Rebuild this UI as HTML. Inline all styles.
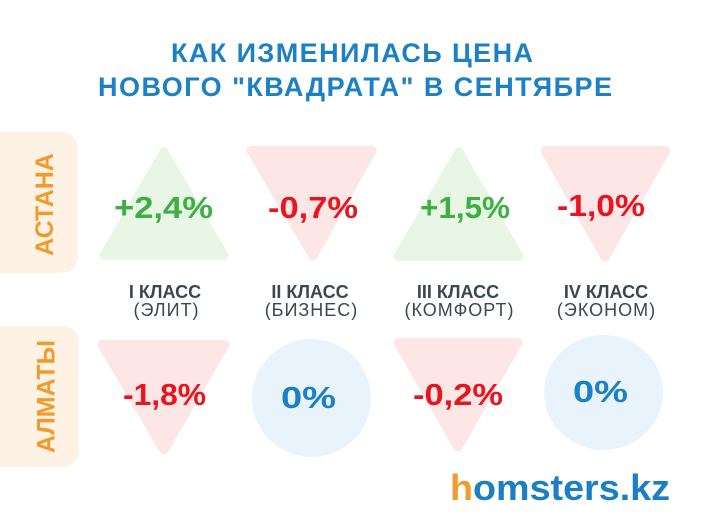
<!DOCTYPE html>
<html>
<head>
<meta charset="utf-8">
<style>
html,body{margin:0;padding:0;background:#fff;}
body{width:705px;height:529px;overflow:hidden;}
svg{display:block;}
text{font-family:"Liberation Sans","DejaVu Sans",sans-serif;}
</style>
</head>
<body>
<svg width="705" height="529" viewBox="0 0 705 529" xmlns="http://www.w3.org/2000/svg">
  <rect width="705" height="529" fill="#ffffff"/>

  <!-- Title -->
  <g fill="#1b80c4" font-weight="bold" font-size="27">
    <text x="171" y="62" textLength="362" lengthAdjust="spacing">КАК ИЗМЕНИЛАСЬ ЦЕНА</text>
    <text x="98" y="96" textLength="514" lengthAdjust="spacing">НОВОГО "КВАДРАТА" В СЕНТЯБРЕ</text>
  </g>

  <!-- Side boxes -->
  <rect x="-20" y="132" width="98" height="141" rx="16" fill="#fef2e5"/>
  <rect x="-20" y="326" width="99" height="141" rx="16" fill="#fef2e5"/>
  <g fill="#f39a2c" font-weight="bold" font-size="25" text-anchor="middle">
    <text transform="translate(53,204.5) rotate(-90)">АСТАНА</text>
    <text transform="translate(54.5,396.5) rotate(-90)">АЛМАТЫ</text>
  </g>

  <!-- Astana shapes -->
  <g stroke-linejoin="round" stroke-width="9">
    <polygon points="164,152 104,255.5 224,255.5" fill="#e9f6e6" stroke="#e9f6e6"/>
    <polygon points="251,150.5 372,150.5 313,256" fill="#fde6e6" stroke="#fde6e6"/>
    <polygon points="459,152 398,256.5 519,256.5" fill="#e9f6e6" stroke="#e9f6e6"/>
    <polygon points="545,150.5 666,150.5 605,257" fill="#fde6e6" stroke="#fde6e6"/>
  </g>

  <!-- Almaty shapes -->
  <g stroke-linejoin="round" stroke-width="9">
    <polygon points="102,344.5 225,344.5 164,450" fill="#fde6e6" stroke="#fde6e6"/>
    <polygon points="398,342.5 518,342.5 458,447" fill="#fde6e6" stroke="#fde6e6"/>
  </g>
  <ellipse cx="311.5" cy="398" rx="59.5" ry="59" fill="#e8f3fb"/>
  <ellipse cx="603.5" cy="392.5" rx="59.5" ry="57.5" fill="#e8f3fb"/>

  <!-- Values -->
  <g font-weight="bold" font-size="31">
    <text x="114" y="218" fill="#3cb043" textLength="99" lengthAdjust="spacingAndGlyphs">+2,4%</text>
    <text x="268" y="218" fill="#e8141e" textLength="90" lengthAdjust="spacingAndGlyphs">-0,7%</text>
    <text x="420" y="218" fill="#3cb043" textLength="90" lengthAdjust="spacingAndGlyphs">+1,5%</text>
    <text x="557" y="216" fill="#e8141e" textLength="88" lengthAdjust="spacingAndGlyphs">-1,0%</text>
    <text x="123" y="405" fill="#e8141e" textLength="83" lengthAdjust="spacingAndGlyphs">-1,8%</text>
    <text x="281" y="408" fill="#1b80c4" textLength="55" lengthAdjust="spacingAndGlyphs">0%</text>
    <text x="413" y="405" fill="#e8141e" textLength="90" lengthAdjust="spacingAndGlyphs">-0,2%</text>
    <text x="573" y="402" fill="#1b80c4" textLength="55" lengthAdjust="spacingAndGlyphs">0%</text>
  </g>

  <!-- Class labels -->
  <g fill="#3a4750" font-size="18" text-anchor="middle">
    <text x="165" y="298" font-weight="bold">I КЛАСС</text>
    <text x="310" y="298" font-weight="bold">II КЛАСС</text>
    <text x="458" y="298" font-weight="bold">III КЛАСС</text>
    <text x="606" y="298" font-weight="bold">IV КЛАСС</text>
    <text x="166.5" y="316" letter-spacing="1">(ЭЛИТ)</text>
    <text x="311.5" y="316" letter-spacing="1">(БИЗНЕС)</text>
    <text x="459.5" y="316" letter-spacing="1">(КОМФОРТ)</text>
    <text x="606.5" y="316" letter-spacing="1">(ЭКОНОМ)</text>
  </g>

  <!-- Logo -->
  <text x="450" y="500" font-weight="bold" font-size="36" textLength="220" lengthAdjust="spacingAndGlyphs"><tspan fill="#f39a2c">h</tspan><tspan fill="#1b7fc3">omsters.kz</tspan></text>
</svg>
</body>
</html>
